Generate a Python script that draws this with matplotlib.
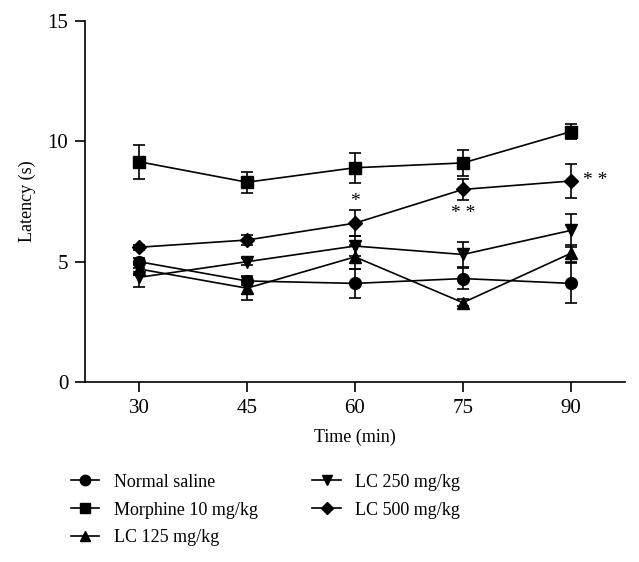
import matplotlib.pyplot as plt
from matplotlib.lines import Line2D

plt.rcParams['font.family'] = ['Liberation Serif', 'DejaVu Serif']

times = [30, 45, 60, 75, 90]

saline = [5.0, 4.2, 4.1, 4.3, 4.1]
saline_err = [0.15, 0.15, 0.6, 0.45, 0.83]
morphine = [9.15, 8.3, 8.9, 9.1, 10.4]
morphine_err = [0.7, 0.43, 0.62, 0.55, 0.3]
lc125 = [4.7, 3.9, 5.2, 3.3, 5.35]
lc125_err = [0.2, 0.5, 0.5, 0.15, 0.35]
lc250 = [4.35, 5.0, 5.65, 5.3, 6.3]
lc250_err = [0.4, 0.15, 0.4, 0.5, 0.7]
lc500 = [5.6, 5.9, 6.6, 8.0, 8.35]
lc500_err = [0.1, 0.2, 0.55, 0.45, 0.7]

series = [
    ("Normal saline", saline, saline_err, "o"),
    ("Morphine 10 mg/kg", morphine, morphine_err, "s"),
    ("LC 125 mg/kg", lc125, lc125_err, "^"),
    ("LC 250 mg/kg", lc250, lc250_err, "v"),
    ("LC 500 mg/kg", lc500, lc500_err, "D"),
]

fig = plt.figure(figsize=(6.39, 5.62), dpi=100)
ax = fig.add_axes([0.133, 0.32, 0.845, 0.643])

handles = []
for name, vals, errs, m in series:
    ms = 7 if m == "D" else 8.5
    ax.errorbar(times, vals, yerr=errs, color="black", marker=m, markersize=ms,
                linewidth=1.2, elinewidth=1.2, capsize=4.5, capthick=1.2)
    handles.append(Line2D([], [], color="black", marker=m, markersize=ms - 1, linewidth=1.2))

# significance marks
ax.text(60, 7.5, "*", ha="center", va="center", fontsize=14)
ax.text(75, 7.0, "* *", ha="center", va="center", fontsize=14)
ax.text(93.4, 8.35, "* *", ha="center", va="center", fontsize=14)

ax.set_xlim(22.5, 97.5)
ax.set_ylim(0, 15)
ax.set_xticks(times)
ax.set_yticks([0, 5, 10, 15])
ax.spines["top"].set_visible(False)
ax.spines["right"].set_visible(False)
ax.spines["left"].set_linewidth(1.2)
ax.spines["bottom"].set_linewidth(1.2)
ax.tick_params(direction="out", length=7, width=1.2, labelsize=15, pad=5)
ax.set_xlabel("Time (min)", fontsize=13, labelpad=8)
ax.set_ylabel("Latency (s)", fontsize=13, labelpad=8)

fig.legend(handles, [s[0] for s in series],
           loc="upper left", bbox_to_anchor=(0.085, 0.186), ncol=2, frameon=False,
           fontsize=13, handlelength=1.6, columnspacing=3.0, labelspacing=0.6,
           handletextpad=0.8)

plt.savefig("out.png", dpi=100)
